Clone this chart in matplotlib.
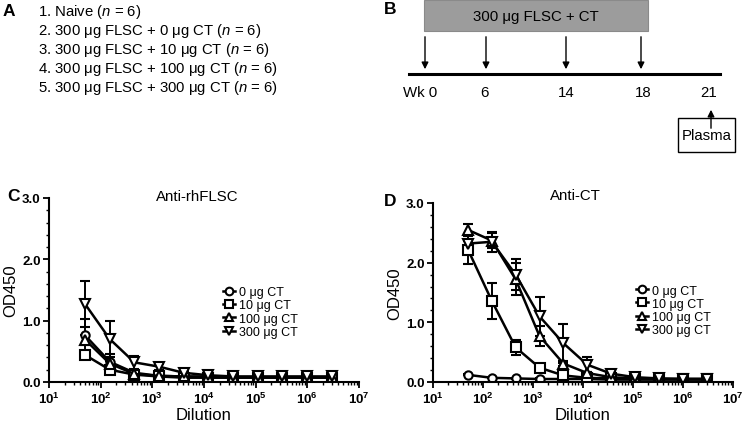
import matplotlib
matplotlib.use("Agg")
import matplotlib.pyplot as plt
from matplotlib.patches import Rectangle
from matplotlib.lines import Line2D
from matplotlib.ticker import MultipleLocator, LogLocator, NullFormatter

plt.rcParams["font.family"] = ["Liberation Sans", "DejaVu Sans"]
plt.rcParams["mathtext.fontset"] = "custom"
plt.rcParams["mathtext.rm"] = "Liberation Sans:bold"
plt.rcParams["mathtext.it"] = "Liberation Sans:italic"
plt.rcParams["mathtext.bf"] = "Liberation Sans:bold"

# ---- data ----
groups = ["1. Naive ($\\mathit{n}$ = 6)",
          "2. 300 μg FLSC + 0 μg CT ($\\mathit{n}$ = 6)",
          "3. 300 μg FLSC + 10 μg CT ($\\mathit{n}$ = 6)",
          "4. 300 μg FLSC + 100 μg CT ($\\mathit{n}$ = 6)",
          "5. 300 μg FLSC + 300 μg CT ($\\mathit{n}$ = 6)"]
week_labels = ["Wk 0", "6", "14", "18", "21"]
series_labels = ["0 μg CT", "10 μg CT", "100 μg CT", "300 μg CT"]
markers = ["o", "s", "^", "v"]

dilution = [50, 150, 450, 1350, 4050, 12150, 36450, 109350, 328050, 984150, 2952450]
x_ticks = [1e1, 1e2, 1e3, 1e4, 1e5, 1e6, 1e7]
x_ticklabels = ["$\\mathbf{10^{%d}}$" % k for k in range(1, 8)]
y_ticks = [0.0, 1.0, 2.0, 3.0]
y_ticklabels = ["0.0", "1.0", "2.0", "3.0"]

c_0ct = [0.76, 0.33, 0.15, 0.10, 0.09, 0.09, 0.08, 0.08, 0.08, 0.08, 0.08]
c_0ct_err = [0.27, 0.12, 0.03, 0.02, 0.01, 0.01, 0.01, 0.01, 0.01, 0.01, 0.01]
c_10ct = [0.44, 0.20, 0.12, 0.09, 0.07, 0.07, 0.07, 0.07, 0.07, 0.07, 0.07]
c_10ct_err = [0.05, 0.03, 0.02, 0.01, 0.01, 0.01, 0.01, 0.01, 0.01, 0.01, 0.01]
c_100ct = [0.69, 0.30, 0.13, 0.10, 0.09, 0.08, 0.08, 0.08, 0.08, 0.08, 0.08]
c_100ct_err = [0.08, 0.05, 0.02, 0.01, 0.01, 0.01, 0.01, 0.01, 0.01, 0.01, 0.01]
c_300ct = [1.27, 0.70, 0.32, 0.25, 0.15, 0.11, 0.09, 0.09, 0.09, 0.09, 0.09]
c_300ct_err = [0.38, 0.29, 0.11, 0.05, 0.03, 0.02, 0.01, 0.01, 0.01, 0.01, 0.01]

d_0ct = [0.12, 0.07, 0.06, 0.05, 0.05, 0.05, 0.04, 0.04, 0.04, 0.04, 0.04]
d_0ct_err = [0.01, 0.01, 0.01, 0.01, 0.01, 0.01, 0.01, 0.01, 0.01, 0.01, 0.01]
d_10ct = [2.22, 1.36, 0.58, 0.24, 0.11, 0.07, 0.06, 0.05, 0.05, 0.05, 0.05]
d_10ct_err = [0.25, 0.30, 0.12, 0.03, 0.02, 0.01, 0.01, 0.01, 0.01, 0.01, 0.01]
d_100ct = [2.55, 2.37, 1.72, 0.77, 0.31, 0.15, 0.08, 0.06, 0.05, 0.05, 0.05]
d_100ct_err = [0.10, 0.12, 0.27, 0.17, 0.04, 0.02, 0.01, 0.01, 0.01, 0.01, 0.01]
d_300ct = [2.32, 2.35, 1.80, 1.10, 0.65, 0.29, 0.14, 0.08, 0.06, 0.05, 0.05]
d_300ct_err = [0.05, 0.17, 0.26, 0.33, 0.33, 0.13, 0.03, 0.02, 0.01, 0.01, 0.01]

W, H = 751, 431
fig = plt.figure(figsize=(W / 100, H / 100), dpi=100)

# overlay in pixel coords for panels A and B and panel letters
ov = fig.add_axes([0, 0, 1, 1])
ov.set_xlim(0, W)
ov.set_ylim(H, 0)
ov.axis("off")

# panel A
ov.text(3, 12, "A", fontsize=12.5, fontweight="bold", va="center")
for i, g in enumerate(groups):
    ov.text(38, 12 + 19 * i, g, fontsize=10.7, va="center")

# panel B
ov.text(384, 10, "B", fontsize=12.5, fontweight="bold", va="center")
ov.add_patch(Rectangle((424, 1), 224, 31, facecolor="#9c9c9c", edgecolor="#8a8a8a", lw=0.8))
ov.text(536, 17, "300 μg FLSC + CT", fontsize=10.8, ha="center", va="center")
arrow_x = [425, 486, 566, 641]
for x in arrow_x:
    ov.annotate("", xy=(x, 73), xytext=(x, 35),
                arrowprops=dict(arrowstyle="-|>", color="black", lw=1.0, mutation_scale=10))
ov.plot([409, 720], [75, 75], color="black", lw=2.2)
label_x = [437, 484, 566, 643, 709]
for lx, lab in zip(label_x, week_labels):
    ov.text(lx, 93, lab, fontsize=10.8, ha="right" if lab.startswith("Wk") else "center", va="center")
ov.annotate("", xy=(711, 108), xytext=(711, 132),
            arrowprops=dict(arrowstyle="-|>", color="black", lw=1.0, mutation_scale=10))
ov.add_patch(Rectangle((678, 119), 57, 34, facecolor="white", edgecolor="black", lw=1.0))
ov.text(706.5, 136, "Plasma", fontsize=10.8, ha="center", va="center")

ov.text(197, 197, "Anti-rhFLSC", fontsize=10.8, ha="center", va="center")
ov.text(575, 196, "Anti-CT", fontsize=10.8, ha="center", va="center")
ov.text(7, 197, "C", fontsize=12.5, fontweight="bold", va="center")
ov.text(384, 202, "D", fontsize=12.5, fontweight="bold", va="center")


def style_axis(ax):
    ax.set_facecolor("none")
    ax.set_xscale("log")
    ax.set_xlim(10, 1e7)
    ax.set_ylim(0, 3.0)
    ax.spines["top"].set_visible(False)
    ax.spines["right"].set_visible(False)
    ax.spines["left"].set_linewidth(1.5)
    ax.spines["bottom"].set_linewidth(1.5)
    ax.set_xticks(x_ticks, x_ticklabels, fontsize=9.5)
    ax.xaxis.set_minor_locator(LogLocator(base=10, subs=range(2, 10), numticks=20))
    ax.xaxis.set_minor_formatter(NullFormatter())
    ax.set_yticks(y_ticks, y_ticklabels, fontweight="bold", fontsize=9.5)
    ax.yaxis.set_minor_locator(MultipleLocator(0.2))
    ax.tick_params(which="major", length=4, width=1.3, pad=2)
    ax.tick_params(which="minor", length=2, width=1.0)
    ax.set_xlabel("Dilution", fontsize=12, labelpad=1)
    ax.set_ylabel("OD450", fontsize=12, labelpad=3)


def draw_panel(ax, ys, errs, leg_xy):
    handles = []
    for y, e, m, lab in zip(ys, errs, markers, series_labels):
        ms = 6.5 if m != "o" else 6
        ax.errorbar(dilution, y, yerr=e, fmt="-" + m, color="black", lw=1.8,
                    ms=ms, mfc="white", mec="black", mew=1.5,
                    elinewidth=1.4, capsize=3.5, capthick=1.4)
        handles.append(Line2D([], [], color="black", lw=1.8, marker=m, ms=ms - 0.5,
                              mfc="white", mec="black", mew=1.5, label=lab))
    ax.legend(handles=handles, loc="center left", bbox_to_anchor=leg_xy, frameon=False,
              fontsize=9, handlelength=1.0, handletextpad=0.3, labelspacing=0.1,
              borderpad=0, borderaxespad=0)


axC = fig.add_axes([49 / W, (H - 383) / H, 310 / W, 184 / H])
draw_panel(axC, [c_0ct, c_10ct, c_100ct, c_300ct],
           [c_0ct_err, c_10ct_err, c_100ct_err, c_300ct_err], (0.56, 0.38))
style_axis(axC)

axD = fig.add_axes([433 / W, (H - 383) / H, 300 / W, 179 / H])
draw_panel(axD, [d_0ct, d_10ct, d_100ct, d_300ct],
           [d_0ct_err, d_10ct_err, d_100ct_err, d_300ct_err], (0.675, 0.40))
style_axis(axD)

fig.savefig("out.png", dpi=100)
